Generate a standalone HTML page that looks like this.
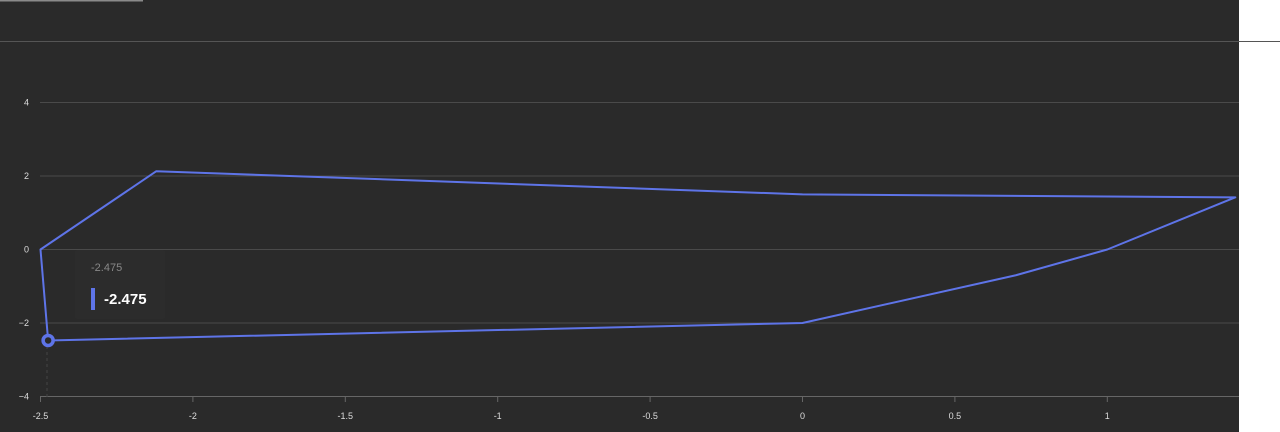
<!DOCTYPE html>
<html><head><meta charset="utf-8"><style>
body{margin:0;width:1280px;height:432px;overflow:hidden;background:#fff;font-family:"Liberation Sans",sans-serif}
svg{display:block}
</style></head><body>
<svg width="1280" height="432">
<rect x="0" y="0" width="1239" height="432" fill="#2a2a2a"/>
<rect x="0" y="0" width="143" height="1.5" fill="#8a8a8a"/>
<line x1="0" y1="41.5" x2="1280" y2="41.5" stroke="#555" stroke-width="1"/>
<g id="grid"></g><g id="xt"></g><g id="yt"></g>
<polygon id="series" fill="none" stroke="#5e74e8" stroke-width="2" stroke-linejoin="round"/>
<line x1="47" y1="340" x2="47" y2="397" stroke="#444" stroke-dasharray="3,3"/>
<circle id="hl" r="5" fill="#2a2a2a" stroke="#5e74e8" stroke-width="3.5"/>
<g>
<rect x="75" y="250" width="90" height="69" fill="#2c2c2c" rx="2"/>
<text x="91" y="271" font-size="11" fill="#888">-2.475</text>
<rect x="91" y="288" width="4" height="22" fill="#5e74e8"/>
<text x="104" y="304" font-size="15" font-weight="bold" fill="#fff">-2.475</text>
</g>
</svg>
<script>
const xs=[-2.5,-2.12,0,1.42,1,0.7,0,-2.475];
const ys=[0,2.13,1.5,1.42,0,-0.7,-2,-2.475];
const xTicks=[-2.5,-2,-1.5,-1,-0.5,0,0.5,1];
const yTicks=[4,2,0,-2,-4];
const X=v=>40.5+(v+2.5)*304.8;
const Y=v=>249.5-v*36.75;
const NS="http://www.w3.org/2000/svg";
const g=document.getElementById('grid'),xt=document.getElementById('xt'),yt=document.getElementById('yt');
yTicks.forEach(v=>{
 const l=document.createElementNS(NS,'line');
 l.setAttribute('x1',40);l.setAttribute('x2',1239);l.setAttribute('y1',Y(v));l.setAttribute('y2',Y(v));
 l.setAttribute('stroke',v===-4?'#666':'#4a4a4a');
 
 
 g.appendChild(l);
 const t=document.createElementNS(NS,'text');
 t.setAttribute('x',29);t.setAttribute('y',Y(v)+3);t.setAttribute('text-anchor','end');
 t.setAttribute('font-size','9');t.setAttribute('fill','#ddd');t.textContent=v<0?'−'+(-v):v;
 
 
 yt.appendChild(t);
});
xTicks.forEach(v=>{
 const l=document.createElementNS(NS,'line');
 l.setAttribute('x1',X(v));l.setAttribute('x2',X(v));l.setAttribute('y1',397);l.setAttribute('y2',402);
 l.setAttribute('stroke','#666');
 
 
 xt.appendChild(l);
 const t=document.createElementNS(NS,'text');
 t.setAttribute('x',X(v));t.setAttribute('y',419);t.setAttribute('text-anchor','middle');
 t.setAttribute('font-size','9');t.setAttribute('fill','#ddd');t.textContent=v;
 
 
 xt.appendChild(t);
});
document.getElementById('series').setAttribute('points',xs.map((x,i)=>X(x)+','+Y(ys[i])).join(' '));
const hl=document.getElementById('hl');hl.setAttribute('cx',X(xs[7]));hl.setAttribute('cy',Y(ys[7]));
</script>
</body></html>
